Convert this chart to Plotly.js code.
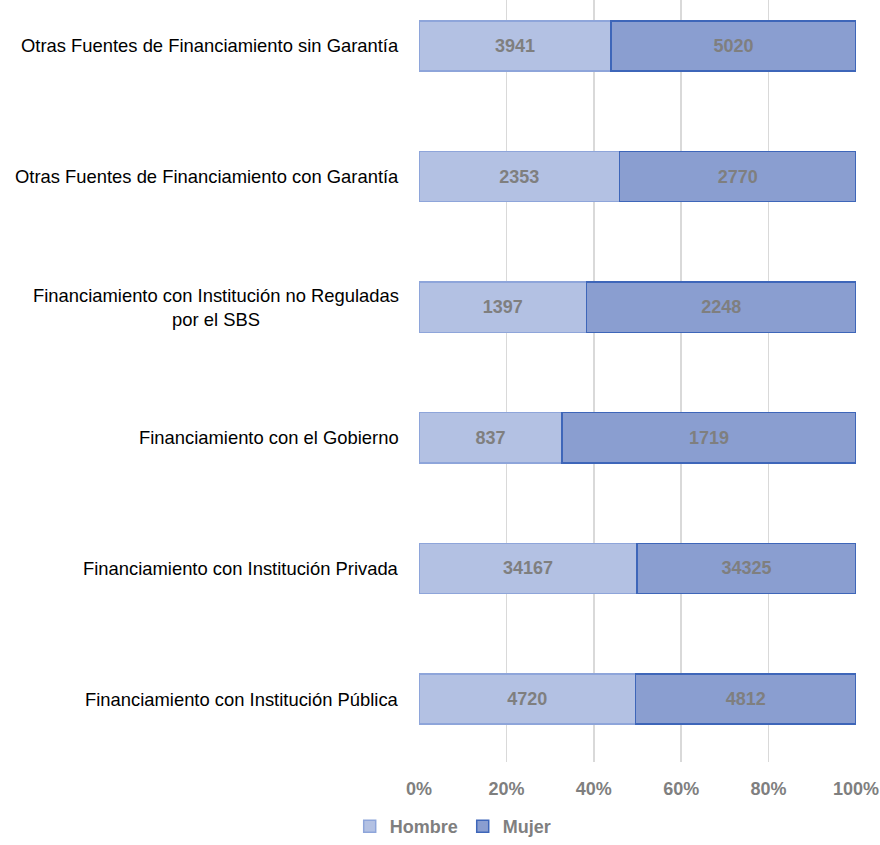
<!DOCTYPE html>
<html><head><meta charset="utf-8">
<script src="https://cdn.plot.ly/plotly-3.0.1.min.js"></script>
<style>html,body{margin:0;padding:0;background:#fff}</style>
</head><body>
<div id="chart" style="width:880px;height:845px"></div>
<script>
const categories = [
  "Financiamiento con Institución Pública",
  "Financiamiento con Institución Privada",
  "Financiamiento con el Gobierno",
  "Financiamiento con Institución no Reguladas<br>por el SBS",
  "Otras Fuentes de Financiamiento con Garantía",
  "Otras Fuentes de Financiamiento sin Garantía"
];
const hombre = [4720, 34167, 837, 1397, 2353, 3941];
const mujer = [4812, 34325, 1719, 2248, 2770, 5020];
const tickVals = [0, 20, 40, 60, 80, 100];
const tickText = ["0%", "20%", "40%", "60%", "80%", "100%"];

const textFont = {family: "Liberation Sans, Arial, sans-serif", size: 18, color: "#7f7f7f", weight: "bold"};
const traces = [
  {type: "bar", orientation: "h", name: "Hombre", y: categories, x: hombre,
   text: hombre.map(String), textposition: "inside", insidetextanchor: "middle",
   textfont: textFont, hoverinfo: "none",
   marker: {color: "#b3c1e3", line: {color: "#8ea5da", width: 1.5}}},
  {type: "bar", orientation: "h", name: "Mujer", y: categories, x: mujer,
   text: mujer.map(String), textposition: "inside", insidetextanchor: "middle",
   textfont: textFont, hoverinfo: "none",
   marker: {color: "#8a9ed0", line: {color: "#3e66b9", width: 1.5}}}
];
const annotations = categories.map(c => ({
  xref: "paper", yref: "y", x: 0, y: c, xanchor: "right", xshift: -18,
  text: c, showarrow: false, align: "center",
  font: {family: "Liberation Sans, Arial, sans-serif", size: 18.4, color: "#000"}
}));
const layout = {
  width: 880, height: 845,
  margin: {l: 419, r: 24, t: 0, b: 83},
  barmode: "stack", barnorm: "percent", bargap: 0.615,
  paper_bgcolor: "#fff", plot_bgcolor: "#fff",
  xaxis: {range: [0, 100], tickvals: tickVals, ticktext: tickText,
          showgrid: true, gridcolor: "#d9d9d9", gridwidth: 1.5, zeroline: false,
          showline: false, ticks: "", ticklabelstandoff: 14,
          tickfont: {family: "Liberation Sans, Arial, sans-serif", size: 18, color: "#7f7f7f", weight: "bold"}},
  yaxis: {range: [-0.482, 5.352], showticklabels: false, showgrid: false, zeroline: false, showline: false},
  showlegend: true,
  legend: {orientation: "h", x: 0.515, xref: "container", xanchor: "center", y: 0, yref: "container", yanchor: "bottom",
           traceorder: "normal", itemwidth: 30,
           font: {family: "Liberation Sans, Arial, sans-serif", size: 18, color: "#7f7f7f", weight: "bold"}},
  annotations: annotations
};
Plotly.newPlot("chart", traces, layout, {displayModeBar: false, staticPlot: true});
</script>
</body></html>
